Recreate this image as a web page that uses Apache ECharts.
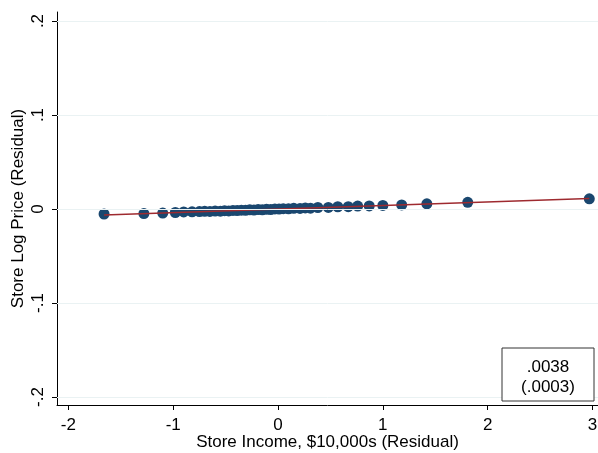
<!DOCTYPE html>
<html>
<head>
<meta charset="utf-8">
<script src="https://cdn.jsdelivr.net/npm/echarts@6/dist/echarts.min.js"></script>
<style>html,body{margin:0;padding:0;background:#fff}#c{width:598px;height:453px}</style>
</head>
<body>
<div id="c"></div>
<script>
// Binned residual scatter data
const incomeResid = [-1.66,-1.28,-1.10,-0.98,-0.90,-0.82,-0.75,-0.70,-0.65,-0.60,-0.55,-0.51,-0.47,-0.43,-0.39,-0.35,-0.31,-0.27,-0.23,-0.19,-0.15,-0.11,-0.07,-0.03,0.01,0.05,0.10,0.15,0.21,0.26,0.31,0.38,0.48,0.57,0.67,0.76,0.87,1.00,1.18,1.42,1.81,2.97];
const priceResid = [-0.0053,-0.0049,-0.0043,-0.0037,-0.0031,-0.0030,-0.0027,-0.0025,-0.0026,-0.0021,-0.0023,-0.0018,-0.0020,-0.0015,-0.0017,-0.0012,-0.0014,-0.0009,-0.0011,-0.0006,-0.0008,-0.0003,-0.0005,0.0001,-0.0001,0.0004,0.0002,0.0007,0.0006,0.0011,0.0009,0.0016,0.0017,0.0024,0.0025,0.0031,0.0033,0.0038,0.0043,0.0055,0.0071,0.0108];
// Fitted line endpoints
const fitX = [-1.66, 2.97];
const fitY = [-0.0063, 0.0113];
// Ticks
const xTicks = [-2,-1,0,1,2,3];
const yTicks = [-0.2,-0.1,0,0.1,0.2];
const coefText = ".0038";
const seText = "(.0003)";

const fmtY = v => v === 0 ? '0' : String(v).replace('0.', '.');
const font = 'Liberation Sans, Arial, sans-serif';

const chart = echarts.init(document.getElementById('c'), null, {renderer:'canvas'});
chart.setOption({
  animation:false,
  backgroundColor:'#fff',
  grid:{left:57, right:0, top:12, bottom:48, containLabel:false, outerBoundsMode:'none'},
  xAxis:{
    type:'value', min:-2.109, max:3.053,
    name:'Store Income, $10,000s (Residual)', nameLocation:'middle', nameGap:29, nameMoveOverlap:false,
    nameTextStyle:{color:'#000', fontSize:17, fontFamily:font},
    axisLine:{show:true, onZero:false, lineStyle:{color:'#000', width:1}},
    axisTick:{show:true, length:5, customValues:xTicks, lineStyle:{color:'#000'}},
    axisLabel:{customValues:xTicks, color:'#000', fontSize:17, fontFamily:font, margin:12},
    splitLine:{show:false}
  },
  yAxis:{
    type:'value', min:-0.2085, max:0.2096,
    name:'Store Log Price (Residual)', nameLocation:'middle', nameGap:30, nameRotate:90, nameMoveOverlap:false,
    nameTextStyle:{color:'#000', fontSize:17, fontFamily:font},
    axisLine:{show:true, onZero:false, lineStyle:{color:'#000', width:1}},
    axisTick:{show:true, length:5, customValues:yTicks, lineStyle:{color:'#000'}},
    axisLabel:{customValues:yTicks, rotate:90, color:'#000', fontSize:17, fontFamily:font, margin:10, formatter:fmtY},
    splitLine:{show:false}
  },
  series:[
    {
      type:'line', data:[], silent:true,
      markLine:{silent:true, symbol:'none', label:{show:false},
        lineStyle:{color:'#eaf2f3', width:1, type:'solid'},
        data: yTicks.map(v => ({yAxis:v}))}
    },
    {
      type:'scatter', symbol:'circle', symbolSize:11,
      itemStyle:{color:'#1a476f', opacity:1},
      data: incomeResid.map((x,i)=>[x, priceResid[i]]), z:3
    },
    {
      type:'line', showSymbol:false, symbol:'none',
      lineStyle:{color:'#9e2a2f', width:1.5},
      data: fitX.map((x,i)=>[x, fitY[i]]), z:4
    }
  ],
  graphic:[
    {type:'rect', shape:{x:502, y:348, width:92, height:53},
     style:{fill:'#fff', stroke:'#333', lineWidth:1}, z:10},
    {type:'text', style:{x:548, y:357, text:coefText+'\n'+seText, fill:'#000', fontSize:17, fontFamily:font, align:'center', verticalAlign:'top', lineHeight:20}, z:11}
  ]
});
</script>
</body>
</html>
